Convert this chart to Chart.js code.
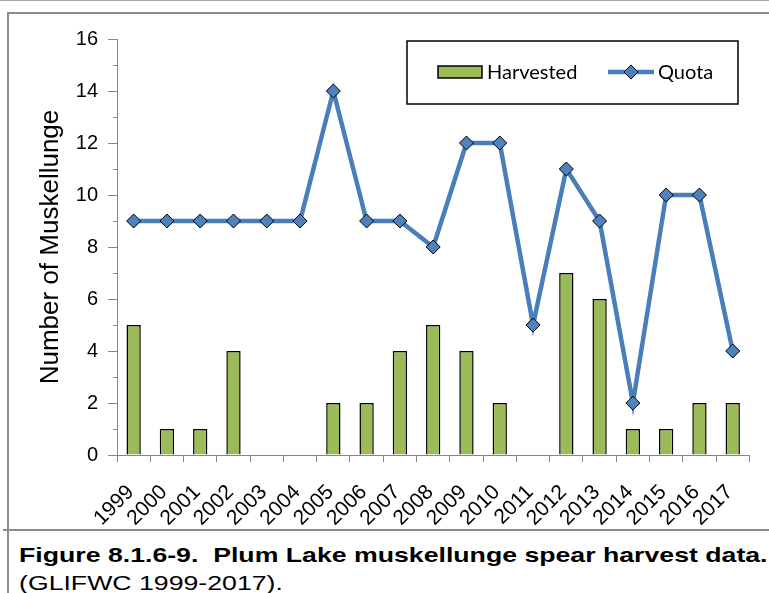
<!DOCTYPE html>
<html>
<head>
<meta charset="utf-8">
<script src="https://cdn.jsdelivr.net/npm/chart.js@4"></script>
<style>
  html, body { margin: 0; padding: 0; background: #fff; }
  body { width: 769px; height: 593px; position: relative; overflow: hidden; }
  .ln { position: absolute; background: #8c8c8c; }
  #wrap { position: absolute; left: 8px; top: 13px; width: 761px; height: 515px; }
  .cap { position: absolute; left: 19px; font-family: "Liberation Sans", Arial, sans-serif; font-size: 21px; line-height: 21px; color: #000; white-space: nowrap; transform-origin: 0 0; transform: scaleX(1.27); }
</style>
</head>
<body>
<div class="ln" style="left:0;top:0;width:769px;height:1px;background:#a6a6a6"></div>
<div class="ln" style="left:7px;top:12px;width:762px;height:2px;"></div>
<div class="ln" style="left:7px;top:12px;width:1.5px;height:581px;"></div>
<div class="ln" style="left:3px;top:529px;width:766px;height:2px;"></div>
<div id="wrap"><canvas id="c" width="761" height="515"></canvas></div>
<div class="cap" style="top:544px;font-weight:bold;">Figure 8.1.6-9.&nbsp; Plum Lake muskellunge spear harvest data.</div>
<div class="cap" style="top:572px;">(GLIFWC 1999-2017).</div>
<script>
const years = ['1999','2000','2001','2002','2003','2004','2005','2006','2007','2008','2009','2010','2011','2012','2013','2014','2015','2016','2017'];
const harvested = [5,1,1,4,0,0,2,2,4,5,4,2,0,7,6,1,1,2,2];
const quota = [9,9,9,9,9,9,14,9,9,8,12,12,5,11,9,2,10,10,4];
const yTicksMajor = [0,2,4,6,8,10,12,14,16];
const seriesNames = ['Harvested','Quota'];
const yTitle = 'Number of Muskellunge';

const AXIS = '#868686';

const legendPlugin = {
  id: 'boxLegend',
  afterDraw(chart) {
    const ctx = chart.ctx;
    const ds = chart.data.datasets;
    const bar = ds.find(d => d.type === 'bar');
    const line = ds.find(d => d.type === 'line');
    ctx.save();
    ctx.strokeStyle = '#000';
    ctx.lineWidth = 1.5;
    ctx.strokeRect(399, 28, 331, 63);
    ctx.fillStyle = bar.backgroundColor;
    ctx.fillRect(430, 53, 44, 12);
    ctx.lineWidth = 1.5;
    ctx.strokeStyle = '#000';
    ctx.strokeRect(430, 53, 44, 12);
    ctx.strokeStyle = line.borderColor;
    ctx.lineWidth = 4.5;
    ctx.beginPath();
    ctx.moveTo(600, 59); ctx.lineTo(646, 59);
    ctx.stroke();
    ctx.beginPath();
    ctx.moveTo(623, 52); ctx.lineTo(630, 59); ctx.lineTo(623, 66); ctx.lineTo(616, 59); ctx.closePath();
    ctx.fillStyle = line.pointBackgroundColor;
    ctx.fill();
    ctx.lineWidth = 1;
    ctx.strokeStyle = '#000';
    ctx.stroke();
    ctx.fillStyle = '#000';
    ctx.font = '20px Lato';
    ctx.textBaseline = 'middle';
    ctx.textAlign = 'left';
    ctx.fillText(bar.label, 479, 60);
    ctx.fillText(line.label, 650, 60);
    ctx.restore();
  }
};

new Chart(document.getElementById('c'), {
  data: {
    labels: years,
    datasets: [
      {
        type: 'line',
        label: seriesNames[1],
        data: quota,
        borderColor: '#4A7EBB',
        borderWidth: 4.5,
        tension: 0,
        pointStyle: 'rectRot',
        pointRadius: 7,
        pointBackgroundColor: '#4F81BD',
        pointBorderColor: '#000',
        pointBorderWidth: 1,
        order: 1,
        yAxisID: 'y'
      },
      {
        type: 'bar',
        label: seriesNames[0],
        data: harvested,
        backgroundColor: '#9BBB59',
        borderColor: '#000',
        borderWidth: (c) => (c.raw === 0 ? 0 : 1.5),
        borderSkipped: 'bottom',
        barPercentage: 0.43,
        categoryPercentage: 1,
        order: 2,
        yAxisID: 'y'
      }
    ]
  },
  options: {
    responsive: false,
    animation: false,
    devicePixelRatio: 1,
    layout: { padding: { top: 26, right: 17, bottom: 0, left: 0 } },
    plugins: { legend: { display: false }, tooltip: { enabled: false }, title: { display: false } },
    scales: {
      x: {
        type: 'category',
        offset: true,
        grid: { offset: true, drawOnChartArea: false, tickLength: 7, color: AXIS, tickColor: AXIS, lineWidth: 1 },
        border: { color: AXIS, width: 1 },
        ticks: {
          font: { family: 'Liberation Sans', size: 21 },
          color: '#000',
          minRotation: 45,
          maxRotation: 45,
          padding: 18,
          labelOffset: -3,
          autoSkip: false
        },
        afterFit: (s) => { s.height = 73; }
      },
      y: {
        type: 'linear',
        position: 'left',
        weight: 1,
        min: 0,
        max: 16,
        afterBuildTicks: (s) => { s.ticks = yTicksMajor.map(v => ({ value: v })); },
        grid: { drawOnChartArea: false, tickLength: 9, color: AXIS, tickColor: AXIS },
        border: { color: AXIS, width: 1 },
        ticks: {
          font: { family: 'Liberation Sans', size: 20 },
          color: '#000',
          padding: 10
        },
        title: {
          display: true,
          text: yTitle,
          color: '#000',
          font: { family: 'Liberation Sans', size: 26 },
          padding: { top: 27, bottom: 0 }
        },
        afterFit: (s) => { s.width = 109; }
      },
      yMinor: {
        type: 'linear',
        position: 'left',
        weight: 0,
        min: 0,
        max: 16,
        grid: { drawOnChartArea: false, tickLength: 4, color: AXIS, tickColor: AXIS },
        border: { display: false },
        ticks: { display: false, stepSize: 1 },
        afterFit: (s) => { s.width = 0; }
      }
    }
  },
  plugins: [legendPlugin]
});
</script>
</body>
</html>
